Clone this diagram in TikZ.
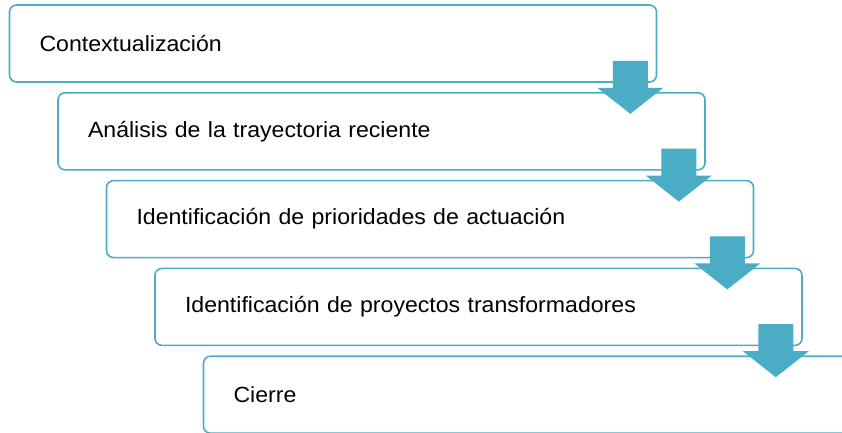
\documentclass[tikz,border=0pt]{standalone}
\usepackage{fontspec}
\setmainfont[FakeStretch=1.05]{Liberation Sans}
\usetikzlibrary{positioning,calc}
\definecolor{stepblue}{HTML}{4BACC6}

\tikzstyle{stage}=[rectangle, rounded corners=7pt, draw=stepblue, line width=1.6pt, fill=white,
  minimum width=647pt, minimum height=77pt, text width=587pt, inner xsep=30pt, align=left,
  font=\fontsize{22}{26}\selectfont, node distance=87.8pt and 48.5pt, on grid]
\tikzstyle{downarrow}=[fill=stepblue]

\begin{document}
\begin{tikzpicture}[x=1pt,y=1pt]
\clip (0,0) rectangle (842,432);

\node [stage] (S1) at (333,388.5) {Contextualización};
\node [stage,below right=of S1] (S2) {Análisis de la trayectoria reciente};
\node [stage,below right=of S2] (S3) {Identificación de prioridades de actuación};
\node [stage,below right=of S3] (S4) {Identificación de proyectos transformadores};
\node [stage,below right=of S4] (S5) {Cierre};

% block arrows between the stages
\foreach \s in {S1,S2,S3,S4}
  \fill [downarrow] ($(\s.south east)+(-44.5,22)$) -- ++(35,0) -- ++(0,-27) -- ++(15.5,0)
    -- ++(-33,-26) -- ++(-33,26) -- ++(15.5,0) -- cycle;
\end{tikzpicture}
\end{document}
